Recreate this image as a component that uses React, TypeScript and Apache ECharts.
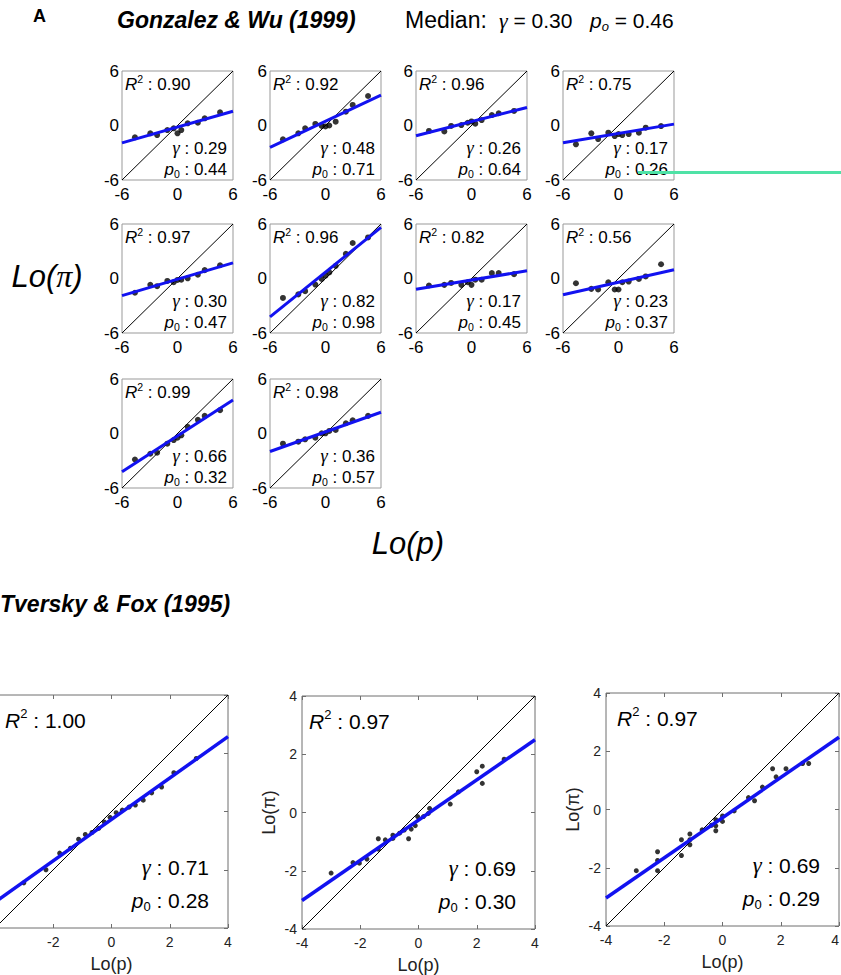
import React, { useEffect, useRef } from "react";
import * as echarts from "echarts";

// ---------- data ----------
// Gonzalez & Wu (1999): log-odds of the 11 probability levels (x), estimated Lo(pi) per subject (y)
const GW_X = [-4.6, -2.94, -2.2, -1.1, -0.41, 0, 0.41, 1.1, 2.2, 2.94, 4.6];
const GW_Y1 = [-1.3, -0.86, -1.05, -0.5, -0.31, -0.86, -0.5, 0.24, 0.31, 0.79, 1.45];
const GW_Y2 = [-1.52, -0.86, -0.31, 0.17, -0.05, -0.1, 0.0, 0.42, 1.52, 2.26, 3.25];
const GW_Y3 = [-0.6, -0.65, -0.05, 0.05, 0.3, 0.45, 0.2, 0.6, 1.15, 1.35, 1.6];
const GW_Y4 = [-2.07, -0.86, -1.49, -0.79, -1.16, -0.94, -1.05, -0.94, -0.79, -0.24, -0.06];
const GW_Y5 = [-1.57, -0.7, -0.85, -0.27, -0.41, -0.16, -0.13, 0.02, 0.41, 0.92, 1.46];
const GW_Y6 = [-2.14, -1.75, -1.39, -0.67, -0.05, 0.31, 0.67, 1.39, 2.72, 3.91, 4.52];
const GW_Y7 = [-0.77, -0.7, -0.49, -0.7, -0.41, -0.7, -0.13, -0.13, 0.59, 0.59, 0.48];
const GW_Y8 = [-0.52, -1.14, -1.21, -0.41, -1.21, -1.21, -0.41, -0.34, -0.05, 0.23, 1.57];
const GW_Y9 = [-2.86, -2.23, -2.12, -1.12, -0.72, -0.46, -0.2, 0.72, 1.5, 1.94, 2.57];
const GW_Y10 = [-1.12, -0.9, -0.64, -0.46, 0.02, 0.02, 0.28, 0.39, 1.13, 1.46, 1.94];
const GW_YS = [GW_Y1, GW_Y2, GW_Y3, GW_Y4, GW_Y5, GW_Y6, GW_Y7, GW_Y8, GW_Y9, GW_Y10];
// fitted line: Lo(pi) at Lo(p) = -6 and +6
const GW_FIT = [
  [-1.91, 1.57], [-2.41, 3.35], [-1.13, 1.99], [-1.89, 0.15], [-1.88, 1.72],
  [-4.22, 5.62], [-1.19, 0.85], [-1.79, 0.97], [-4.22, 3.7], [-1.98, 2.34],
];
const GW_R2 = ["0.90", "0.92", "0.96", "0.75", "0.97", "0.96", "0.82", "0.56", "0.99", "0.98"];
const GW_GAMMA = ["0.29", "0.48", "0.26", "0.17", "0.30", "0.82", "0.17", "0.23", "0.66", "0.36"];
const GW_P0 = ["0.44", "0.71", "0.64", "0.26", "0.47", "0.98", "0.45", "0.37", "0.32", "0.57"];
const GW_TICKS = [-6, 0, 6];

// Tversky & Fox (1995)
const TF_A: number[][] = [
  [-3.01, -2.45], [-2.25, -2.0], [-1.78, -1.43], [-1.41, -1.26], [-1.13, -0.95],
  [-0.9, -0.79], [-0.67, -0.72], [-0.44, -0.58], [-0.25, -0.36], [-0.05, -0.2],
  [0.16, -0.04], [0.37, 0.05], [0.6, 0.15], [0.82, 0.22], [1.09, 0.39],
  [1.38, 0.64], [1.72, 0.84], [2.14, 1.33], [2.91, 1.82],
];
const TF_B: number[][] = [
  [-3.0, -2.08], [-2.25, -1.72], [-2.03, -1.74], [-1.77, -1.6], [-1.38, -0.9],
  [-1.38, -1.26], [-1.14, -0.94], [-0.88, -0.78], [-0.88, -0.89], [-0.65, -0.71],
  [-0.49, -0.6], [-0.34, -0.9], [-0.25, -0.57], [-0.11, -0.45], [-0.03, -0.14],
  [0.17, -0.14], [0.34, -0.03], [0.38, 0.14], [1.09, 0.29], [1.37, 0.71],
  [2.0, 1.4], [2.19, 1.59], [2.19, 1.0], [2.94, 1.83],
];
const TF_C: number[][] = [
  [-2.96, -2.1], [-2.23, -1.45], [-2.23, -1.75], [-2.23, -2.1], [-1.41, -1.04],
  [-1.41, -1.58], [-1.12, -0.84], [-1.12, -1.04], [-1.12, -1.21], [-0.7, -0.7],
  [-0.38, -0.54], [-0.23, -0.35], [-0.23, -0.56], [-0.23, -0.73], [0.0, -0.22],
  [0.0, -0.41], [0.4, -0.05], [0.89, 0.41], [1.1, 0.3], [1.37, 0.77],
  [1.72, 1.4], [1.84, 1.12], [2.18, 1.4], [2.75, 1.58], [2.96, 1.58],
];
const TF_PTS = [TF_A, TF_B, TF_C];
const TF_FIT = [[-3.11, 2.57], [-3.02, 2.5], [-3.04, 2.48]];
const TF_R2 = ["1.00", "0.97", "0.97"];
const TF_GAMMA = ["0.71", "0.69", "0.69"];
const TF_P0 = ["0.28", "0.30", "0.29"];

// ---------- layout / style ----------
const FONT = "Liberation Sans, Arial, Helvetica, sans-serif";
const SERIF = "Liberation Serif, Times New Roman, serif";
const BLUE = "#1212f0";
const S_LEFT = [122, 270, 416, 563];
const S_TOP = [71, 224, 379];
const S_W = 111;
const S_H = 109;
const B_LEFT = [-5, 302, 606];
const B_TOP = [695, 696, 693];
const B_W = 233;
const B_H = 233;
const B_RX = [10, 7, 11];
// the left-most Tversky & Fox panel is cut by the page edge: its y labels and first x label are not visible
const B_CLIPPED = [true, false, false];
// the right-most panel touches the right page edge: keep its last x label inside
const B_ALIGN_MAX = [false, false, true];

function statRich(size: number) {
  const base = { fontSize: size, fontFamily: FONT, fill: "#000", lineHeight: size * 1.2 };
  return {
    i: { ...base, fontStyle: "italic" },
    g: { ...base, fontFamily: SERIF, fontStyle: "italic", fontSize: size * 1.08 },
    n: { ...base },
    sup: { fontSize: size * 0.62, fontFamily: FONT, fill: "#000", lineHeight: size * 0.55, verticalAlign: "top" },
    sub: { fontSize: size * 0.62, fontFamily: FONT, fill: "#000", lineHeight: size * 0.5, verticalAlign: "bottom" },
  };
}

function statTexts(left: number, top: number, w: number, size: number, r2: string, g: string, p: string,
  rx: number, ry: number, gy: number, py: number, gr: number) {
  const rich = statRich(size);
  return [
    { type: "text", x: left + rx, y: top + ry, z: 10, style: { text: `{i|R}{sup|2}{n| : ${r2}}`, rich, align: "left", verticalAlign: "middle" } },
    { type: "text", x: left + w - gr, y: top + gy, z: 10, style: { text: `{g|γ}{n| : ${g}}`, rich, align: "right", verticalAlign: "middle" } },
    { type: "text", x: left + w - gr, y: top + py, z: 10, style: { text: `{i|p}{sub|0}{n| : ${p}}`, rich, align: "right", verticalAlign: "middle" } },
  ];
}

function buildOption() {
  const grid: any[] = [];
  const xAxis: any[] = [];
  const yAxis: any[] = [];
  const series: any[] = [];
  const graphic: any[] = [];

  GW_YS.forEach((ys, i) => {
    const col = i % 4;
    const row = Math.floor(i / 4);
    const left = S_LEFT[col];
    const top = S_TOP[row];
    grid.push({
      left, top, width: S_W, height: S_H, show: true, borderColor: "#999", borderWidth: 1,
      backgroundColor: "#fff", outerBoundsMode: "none", containLabel: false,
    });
    const ax = {
      type: "value", gridIndex: i, min: GW_TICKS[0], max: GW_TICKS[2], interval: 6,
      axisLine: { show: false, onZero: false }, axisTick: { show: false }, splitLine: { show: false },
    };
    xAxis.push({ ...ax, axisLabel: { fontSize: 17, color: "#000", fontFamily: FONT, margin: 6 } });
    yAxis.push({ ...ax, axisLabel: { fontSize: 17, color: "#000", fontFamily: FONT, margin: 3 } });
    series.push({
      type: "line", xAxisIndex: i, yAxisIndex: i, symbol: "none", silent: true,
      data: [[-6, -6], [6, 6]], lineStyle: { color: "#000", width: 1 },
    });
    series.push({
      type: "line", xAxisIndex: i, yAxisIndex: i, symbol: "none", silent: true,
      data: [[-6, GW_FIT[i][0]], [6, GW_FIT[i][1]]], lineStyle: { color: BLUE, width: 3 },
    });
    series.push({
      type: "scatter", xAxisIndex: i, yAxisIndex: i, symbolSize: 6, silent: true,
      data: GW_X.map((x, j) => [x, ys[j]]), itemStyle: { color: "#000" },
    });
    graphic.push(...statTexts(left, top, S_W, 17, GW_R2[i], GW_GAMMA[i], GW_P0[i], 3, 13, 77, 98, 6));
  });

  const nS = GW_YS.length;
  TF_PTS.forEach((pts, k) => {
    const gi = nS + k;
    const left = B_LEFT[k];
    const top = B_TOP[k];
    const clipped = B_CLIPPED[k];
    grid.push({
      left, top, width: B_W, height: B_H, show: true, borderColor: "#6e6e6e", borderWidth: 1,
      backgroundColor: "#fff", outerBoundsMode: "none", containLabel: false,
    });
    const base = {
      type: "value", gridIndex: gi, min: -4, max: 4, interval: 2,
      axisLine: { show: false, onZero: false }, splitLine: { show: false },
      axisTick: { show: true, inside: true, length: 4, lineStyle: { color: "#6e6e6e" } },
    };
    xAxis.push({
      ...base, position: "bottom",
      axisLabel: {
        fontSize: 14, color: "#222", fontFamily: FONT, margin: 7, showMinLabel: !clipped,
        ...(B_ALIGN_MAX[k] ? { alignMaxLabel: "right" } : {}),
      },
      name: "Lo(p)", nameLocation: "middle", nameGap: 27,
      nameTextStyle: { fontSize: 18, color: "#222", fontFamily: FONT },
    });
    yAxis.push({
      ...base, position: "left",
      axisLabel: { show: !clipped, fontSize: 14, color: "#222", fontFamily: FONT, margin: 5 },
      name: clipped ? "" : "Lo(π)", nameLocation: "middle", nameGap: 24,
      nameTextStyle: { fontSize: 18, color: "#222", fontFamily: FONT },
    });
  });
  TF_PTS.forEach((_, k) => {
    const gi = nS + k;
    const base = {
      type: "value", gridIndex: gi, min: -4, max: 4, interval: 2,
      axisLine: { show: false, onZero: false }, splitLine: { show: false }, axisLabel: { show: false },
      axisTick: { show: true, inside: true, length: 4, lineStyle: { color: "#6e6e6e" } },
    };
    xAxis.push({ ...base, position: "top" });
    yAxis.push({ ...base, position: "right" });
  });

  TF_PTS.forEach((pts, k) => {
    const ai = nS + k;
    series.push({
      type: "line", xAxisIndex: ai, yAxisIndex: ai, symbol: "none", silent: true,
      data: [[-4, -4], [4, 4]], lineStyle: { color: "#000", width: 1 },
    });
    series.push({
      type: "line", xAxisIndex: ai, yAxisIndex: ai, symbol: "none", silent: true,
      data: [[-4, TF_FIT[k][0]], [4, TF_FIT[k][1]]], lineStyle: { color: BLUE, width: 3.5 },
    });
    series.push({
      type: "scatter", xAxisIndex: ai, yAxisIndex: ai, symbolSize: 5, silent: true,
      data: pts, itemStyle: { color: "#000" },
    });
    graphic.push(...statTexts(B_LEFT[k], B_TOP[k], B_W, 21, TF_R2[k], TF_GAMMA[k], TF_P0[k], B_RX[k], 25, 172, 205, 19));
  });

  // headings and global labels
  graphic.push(
    { type: "text", x: 33, y: 16, style: { text: "A", fontSize: 18, fontWeight: "bold", fontFamily: FONT, fill: "#000", verticalAlign: "middle" } },
    { type: "text", x: 117, y: 20, style: { text: "Gonzalez & Wu (1999)", fontSize: 23, fontWeight: "bold", fontStyle: "italic", fontFamily: FONT, fill: "#000", verticalAlign: "middle" } },
    { type: "text", x: 405, y: 20, style: { text: "Median:", fontSize: 23, fontFamily: FONT, fill: "#000", verticalAlign: "middle" } },
    {
      type: "text", x: 499, y: 20, style: {
        text: "{g|γ}{n| = 0.30}", verticalAlign: "middle",
        rich: { g: { fontSize: 22, fontStyle: "italic", fontFamily: SERIF, fill: "#000", lineHeight: 26 }, n: { fontSize: 21, fontFamily: FONT, fill: "#000", lineHeight: 26 } },
      },
    },
    {
      type: "text", x: 590, y: 20, style: {
        text: "{i|p}{sub|o}{n| = 0.46}", verticalAlign: "middle",
        rich: {
          i: { fontSize: 21, fontStyle: "italic", fontFamily: FONT, fill: "#000", lineHeight: 26 },
          sub: { fontSize: 13, fontStyle: "italic", fontFamily: FONT, fill: "#000", lineHeight: 12, verticalAlign: "bottom" },
          n: { fontSize: 21, fontFamily: FONT, fill: "#000", lineHeight: 26 },
        },
      },
    },
    {
      type: "text", x: 47, y: 276, style: {
        text: "{a|Lo(}{b|π}{a|)}", align: "center", verticalAlign: "middle",
        rich: {
          a: { fontSize: 31, fontStyle: "italic", fontFamily: FONT, fill: "#000", lineHeight: 36 },
          b: { fontSize: 32, fontStyle: "italic", fontFamily: SERIF, fill: "#000", lineHeight: 36 },
        },
      },
    },
    { type: "text", x: 408, y: 543, style: { text: "Lo(p)", fontSize: 31, fontStyle: "italic", fontFamily: FONT, fill: "#000", align: "center", verticalAlign: "middle" } },
    { type: "text", x: 0, y: 604, style: { text: "Tversky & Fox (1995)", fontSize: 23, fontWeight: "bold", fontStyle: "italic", fontFamily: FONT, fill: "#000", verticalAlign: "middle" } },
    { type: "rect", shape: { x: 638, y: 171, width: 203, height: 3 }, style: { fill: "#4fe2a6" }, z: 20 },
  );

  return {
    animation: false,
    backgroundColor: "#fff",
    grid, xAxis, yAxis, series, graphic,
  };
}

export default function App() {
  const ref = useRef<HTMLDivElement>(null);
  useEffect(() => {
    document.body.style.margin = "0";
    const chart = echarts.init(ref.current!, null, { renderer: "svg" });
    chart.setOption(buildOption() as any);
    return () => chart.dispose();
  }, []);
  return <div ref={ref} style={{ width: 841, height: 975 }} />;
}
